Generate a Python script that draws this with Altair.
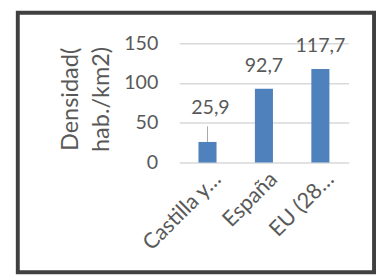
import altair as alt
import pandas as pd

categories = ["Castilla y…", "España", "EU (28…"]
values = [25.9, 92.7, 117.7]
value_labels = ["25,9", "92,7", "117,7"]
y_ticks = [0, 50, 100, 150]
y_title = ["Densidad(", "hab./km2)"]

df = pd.DataFrame({"cat": categories, "v": values, "lab": value_labels})

FONT = "Lato"
GRAY = "#595959"
BLUE = "#4F81BD"

x_enc = alt.X(
    "cat:N", sort=categories, title=None,
    scale=alt.Scale(paddingInner=0.68, paddingOuter=0.34),
    axis=alt.Axis(labelAngle=-45, labelFontSize=22, labelColor=GRAY, labelFont=FONT,
                  labelAlign="right", labelBaseline="top", labelOffset=3,
                  ticks=False, domain=False, labelPadding=6, grid=False),
)
y_enc = alt.Y(
    "v:Q", title=y_title,
    scale=alt.Scale(domain=[0, 150]),
    axis=alt.Axis(values=y_ticks, labelFontSize=20, labelColor=GRAY, labelFont=FONT,
                  ticks=False, domain=False, labelPadding=22, gridColor="#D9D9D9",
                  gridWidth=1.5, titleFontSize=24, titleFont=FONT, titleColor=GRAY,
                  titleFontWeight="normal", titleLineHeight=32, titlePadding=10),
)

base = alt.Chart(df)

bars = base.mark_bar(color=BLUE).encode(x=x_enc, y=y_enc)

labels = base.transform_filter(alt.datum.cat != categories[0]).mark_text(
    font=FONT, fontSize=20, color=GRAY, baseline="alphabetic", dy=-17
).encode(x=alt.X("cat:N", sort=categories), y="v:Q", text="lab:N")

label_moved = base.transform_filter(alt.datum.cat == categories[0]).mark_text(
    font=FONT, fontSize=20, color=GRAY, baseline="alphabetic", dy=-29, dx=3
).encode(x=alt.X("cat:N", sort=categories), y="v:Q", text="lab:N")

leader = base.transform_filter(alt.datum.cat == categories[0]).mark_rule(
    color="#A6A6A6", strokeWidth=1, y2Offset=-16
).encode(x=alt.X("cat:N", sort=categories), y="v:Q", y2="v:Q")

frame = alt.Chart(alt.Data(values=[{"a": 1}])).mark_rect(
    filled=False, stroke="#404040", strokeWidth=4
).encode(x=alt.value(-165), x2=alt.value(199), y=alt.value(-23), y2=alt.value(242))

chart = alt.layer(bars, leader, labels, label_moved, frame).properties(
    width=173, height=130,
    autosize=alt.AutoSizeParams(type="none"),
    padding={"left": 175, "top": 25, "right": 28, "bottom": 114},
).configure_view(stroke=None)

chart.save("out.html", embed_options={"renderer": "svg", "actions": False})
